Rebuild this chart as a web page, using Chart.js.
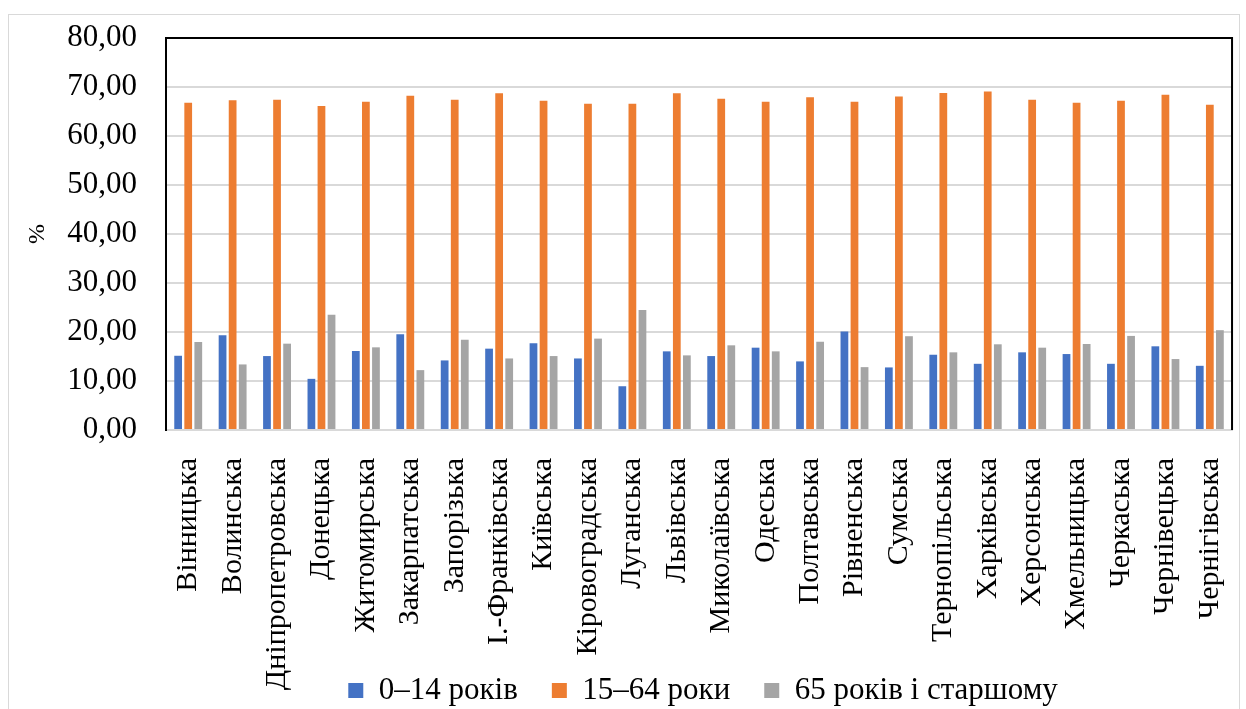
<!DOCTYPE html>
<html>
<head>
<meta charset="utf-8">
<script src="https://cdn.jsdelivr.net/npm/chart.js@4.4.1/dist/chart.umd.min.js"></script>
<style>
  body { margin: 0; background: #fff; overflow: hidden; }
  #box { position: absolute; left: 8px; top: 14px; width: 1232px; height: 700px; border: 1px solid #d9d9d9; box-sizing: border-box; }
  canvas { display: block; }
</style>
</head>
<body>
<div id="box"><canvas id="barchart1" width="1257" height="698"></canvas></div>
<script>
// Регіони
const regions = ['Вінницька', 'Волинська', 'Дніпропетровська', 'Донецька', 'Житомирська', 'Закарпатська',
  'Запорізька', 'І.-Франківська', 'Київська', 'Кіровоградська', 'Луганська', 'Львівська',
  'Миколаївська', 'Одеська', 'Полтавська', 'Рівненська', 'Сумська', 'Тернопільська',
  'Харківська', 'Херсонська', 'Хмельницька', 'Черкаська', 'Чернівецька', 'Чернігівська'];

// частка населення, %
const age0_14 = [15.15, 19.34, 15.09, 10.44, 16.12, 19.54, 14.2, 16.6, 17.7, 14.6, 8.93, 16.05,
  15.09, 16.8, 14.0, 20.08, 12.77, 15.36, 13.51, 15.85, 15.5, 13.51, 17.08, 13.1];
const age15_64 = [66.8, 67.3, 67.4, 66.1, 67.0, 68.2, 67.4, 68.7, 67.2, 66.6, 66.6, 68.7,
  67.6, 67.0, 67.9, 67.0, 68.05, 68.8, 69.07, 67.4, 66.8, 67.2, 68.4, 66.4];
const age65plus = [17.97, 13.38, 17.62, 23.5, 16.87, 12.22, 18.44, 14.6, 15.09, 18.65, 24.47, 15.23,
  17.28, 16.05, 18.03, 12.83, 19.14, 15.85, 17.49, 16.8, 17.56, 19.2, 14.48, 20.37];

const seriesNames = ['0–14 років', '15–64 роки', '65 років і старшому'];

const serif = "'Liberation Serif', 'Times New Roman', serif";
Chart.defaults.font.family = serif;
Chart.defaults.color = '#000';

// рамка навколо області графіка (верх і право чорні)
const frame = {
  id: 'frame',
  afterDraw(chart) {
    const a = chart.chartArea;
    const ctx = chart.ctx;
    ctx.save();
    ctx.strokeStyle = '#000';
    ctx.lineWidth = 2;
    ctx.beginPath();
    ctx.moveTo(a.left, a.top);
    ctx.lineTo(a.right, a.top);
    ctx.lineTo(a.right, a.bottom);
    ctx.stroke();
    ctx.restore();
  }
};

// підписи осі X заходять у зону легенди, як в оригіналі
const overlap = {
  id: 'overlap',
  afterLayout(chart) {
    const x = chart.scales.x;
    x.bottom = x.top + 290;
    const lg = chart.legend;
    lg.left += 4; lg.right += 4;
    lg.top += 3; lg.bottom += 3;
  }
};

const data = {
  labels: regions,
  datasets: [
    { label: seriesNames[0], data: age0_14, backgroundColor: '#4472C4' },
    { label: seriesNames[1], data: age15_64, backgroundColor: '#ED7D31' },
    { label: seriesNames[2], data: age65plus, backgroundColor: '#A5A5A5' }
  ]
};

new Chart(document.getElementById('barchart1'), {
  type: 'bar',
  data: data,
  plugins: [frame, overlap],
  options: {
    responsive: false,
    animation: false,
    datasets: { bar: { categoryPercentage: 0.68, barPercentage: 0.77 } },
    layout: { padding: { top: 23, right: 8, left: 0, bottom: 0 } },
    plugins: {
      tooltip: { enabled: false },
      legend: {
        position: 'bottom',
        fullSize: false,
        labels: {
          font: { family: serif, size: 31 },
          color: '#000',
          boxWidth: 15,
          boxHeight: 15,
          padding: 34
        }
      }
    },
    scales: {
      x: {
        grid: { display: false },
        border: { color: '#d9d9d9', width: 2 },
        ticks: {
          color: '#000',
          font: { family: serif, size: 30 },
          minRotation: 90,
          maxRotation: 90,
          autoSkip: false,
          padding: 20
        },
        afterFit(scale) { scale.height = 208; }
      },
      y: {
        min: 0,
        max: 80,
        grid: { color: '#d9d9d9', lineWidth: 2, drawTicks: true, tickLength: 27, tickColor: 'rgba(0,0,0,0)' },
        border: { color: '#000', width: 2 },
        ticks: {
          stepSize: 10,
          color: '#000',
          padding: 2,
          font: { family: serif, size: 31 },
          callback: v => v.toFixed(2).replace('.', ',')
        },
        title: {
          display: true,
          text: '%',
          color: '#000',
          padding: { top: 14, bottom: 0 },
          font: { family: serif, size: 24 }
        },
        afterFit(scale) { scale.width = 157; }
      }
    }
  }
});
</script>
</body>
</html>
